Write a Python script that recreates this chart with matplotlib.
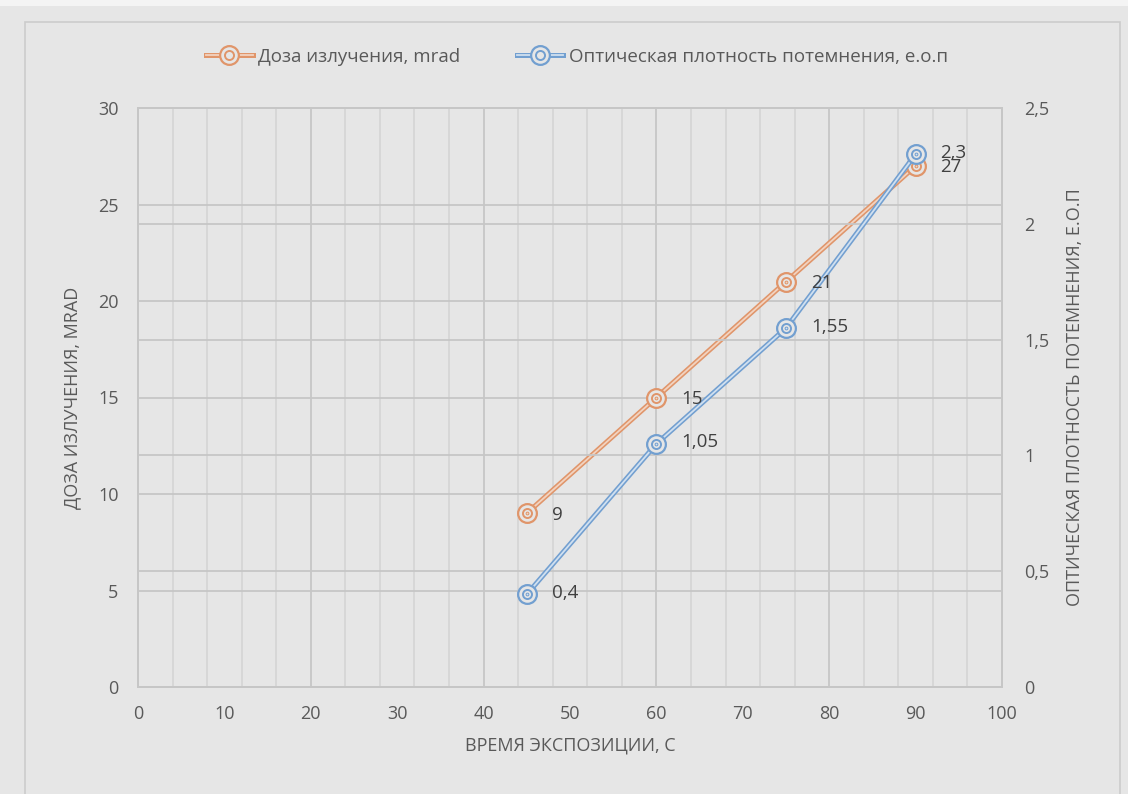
import matplotlib.pyplot as plt
import numpy as np
from matplotlib.lines import Line2D
from matplotlib.patches import Rectangle

plt.rcParams['font.family'] = ['Open Sans', 'DejaVu Sans']

time_s = [45, 60, 75, 90]
dose = [9, 15, 21, 27]
density = [0.4, 1.05, 1.55, 2.3]
dose_labels = ['9', '15', '21', '27']
density_labels = ['0,4', '1,05', '1,55', '2,3']

bg = '#e6e6e6'
txt = '#595959'
orange = '#e0956a'
orange_in = '#f2d3c0'
blue = '#729fd0'
blue_in = '#d0e0f0'

fig = plt.figure(figsize=(11.28, 7.94), dpi=100, facecolor=bg)
fig.patches.append(Rectangle((25/1128, -0.01), (1120-25)/1128, 1-22/794+0.01,
                             transform=fig.transFigure, fill=False,
                             edgecolor='#cccccc', lw=1.2))
fig.patches.append(Rectangle((0, 1-6/794), 1, 6/794, transform=fig.transFigure,
                             facecolor='#f4f4f4', edgecolor='none'))

ax = fig.add_axes([138/1128, 1-687/794, (1002-138)/1128, (687-108)/794])
ax.set_facecolor(bg)
ax2 = ax.twinx()

ax.set_xlim(0, 100)
ax.set_ylim(0, 30)
ax2.set_ylim(0, 2.5)

# gridlines
for v in np.arange(4, 100, 4):
    c = '#c6c6c6' if v % 20 == 0 else '#d6d6d6'
    ax.axvline(v, color=c, lw=1.3, zorder=0)
for v in [5, 10, 15, 20, 25]:
    ax.axhline(v, color='#c6c6c6', lw=1.3, zorder=0)
for v in [0.5, 1, 1.5, 2]:
    ax2.axhline(v, color='#c6c6c6', lw=1.3, zorder=0)

for a in (ax, ax2):
    for s in a.spines.values():
        s.set_color('#c6c6c6')
        s.set_linewidth(1.3)
    a.tick_params(length=0, labelsize=13, colors=txt)

ax.set_xticks(range(0, 101, 10))
ax.set_yticks(range(0, 31, 5))
ax.tick_params(axis='x', pad=13)
ax.tick_params(axis='y', pad=14)
ax2.set_yticks([0, 0.5, 1, 1.5, 2, 2.5])
ax2.set_yticklabels(['0', '0,5', '1', '1,5', '2', '2,5'])
ax2.tick_params(axis='y', pad=16)

ax.set_xlabel('ВРЕМЯ ЭКСПОЗИЦИИ, С', fontsize=13, color=txt, labelpad=10)
ax.set_ylabel('ДОЗА ИЗЛУЧЕНИЯ, MRAD', fontsize=13, color=txt, labelpad=12)
ax2.set_ylabel('ОПТИЧЕСКАЯ ПЛОТНОСТЬ ПОТЕМНЕНИЯ, Е.О.П', fontsize=13, color=txt, labelpad=12)

def draw(a, x, y, c, ci):
    a.plot(x, y, color=c, lw=3.6, solid_capstyle='round', zorder=3)
    a.plot(x, y, color=ci, lw=1.3, zorder=4)
    a.plot(x, y, ls='none', marker='o', ms=13.5, mfc=bg, mec=c, mew=1.6, zorder=5)
    a.plot(x, y, ls='none', marker='o', ms=6.5, mfc='none', mec=c, mew=1.4, zorder=6)
    a.plot(x, y, ls='none', marker='o', ms=2, mfc=ci, mec=c, mew=0.7, zorder=6)

draw(ax, time_s, dose, orange, orange_in)
draw(ax2, time_s, density, blue, blue_in)

# data labels on top of both series
for xi, yi, lb in zip(time_s, dose, dose_labels):
    ax2.annotate(lb, (xi, yi), xycoords=ax.transData, xytext=(18, -1),
                 textcoords='offset points', va='center', ha='left',
                 fontsize=13.5, color='#404040', zorder=8)
for xi, yi, lb in zip(time_s, density, density_labels):
    ax2.annotate(lb, (xi, yi), xytext=(18, 1), textcoords='offset points',
                 va='center', ha='left', fontsize=13.5, color='#404040', zorder=8)

def handle(c, ci):
    return (Line2D([], [], color=c, lw=3.6),
            Line2D([], [], color=ci, lw=1.3),
            Line2D([], [], ls='none', marker='o', ms=13.5, mfc=bg, mec=c, mew=1.6),
            Line2D([], [], ls='none', marker='o', ms=6.5, mfc='none', mec=c, mew=1.4))

fig.legend([handle(orange, orange_in), handle(blue, blue_in)],
           ['Доза излучения, mrad', 'Оптическая плотность потемнения, е.о.п'],
           loc='center', bbox_to_anchor=(577/1128, 1-57/794), ncol=2, frameon=False,
           fontsize=13.5, labelcolor=txt, handlelength=2.5, columnspacing=3.0,
           handletextpad=0.3)

fig.savefig('out.png', dpi=100, facecolor=bg)
